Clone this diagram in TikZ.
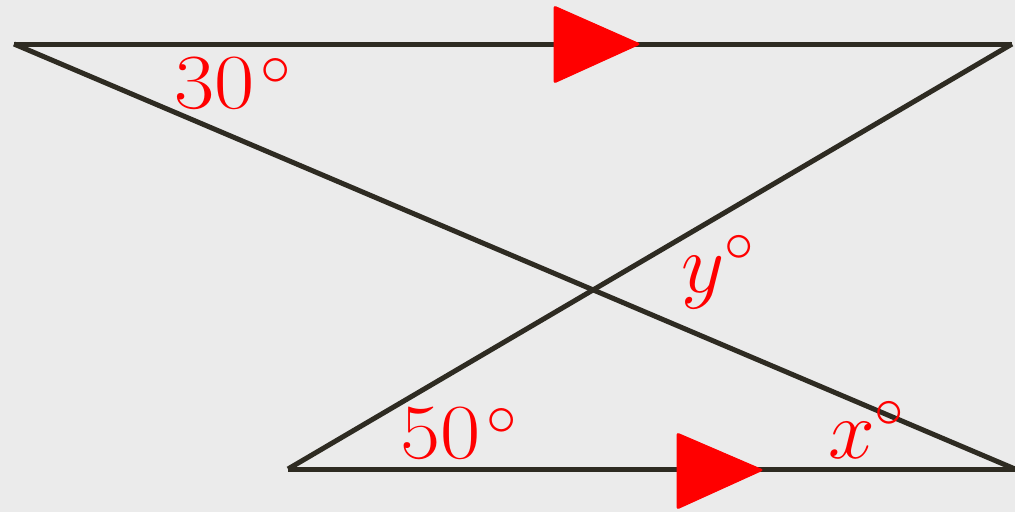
\RequirePackage{fix-cm}
\documentclass[tikz,border=0pt]{standalone}
\newcommand{\degnum}[1]{\scalebox{1.12}[1]{$#1$}\kern6pt\raisebox{23pt}{\scalebox{0.78}{$\circ$}}}
\begin{document}
\begin{tikzpicture}[x=1pt,y=-1pt,
  seg/.style={draw=linecol,line width=5pt},
  marker/.style={fill=red,draw=red,line width=1pt,rounded corners=2pt},
  lab/.style={text=red,inner sep=0pt,anchor=base west,font=\fontsize{78}{84}\selectfont},
  letterlab/.style={lab,font=\fontsize{84}{90}\selectfont}]
\definecolor{linecol}{RGB}{46,43,34}
\definecolor{bgcol}{RGB}{235,235,235}
\useasboundingbox (0,0) rectangle (1015,512);
\fill[bgcol] (0,0) rectangle (1015,512);
\coordinate (A) at (14,44);
\coordinate (B) at (1012,44);
\coordinate (C) at (288,469);
\coordinate (D) at (1015,469);
\draw[seg] (A) -- (B);
\draw[seg] (C) -- (D);
\draw[seg] (A) -- (D);
\draw[seg] (C) -- (B);
\fill[marker] (554,6) -- (640,44) -- (554,83) -- cycle;
\fill[marker] (677,433) -- (763,470) -- (677,509) -- cycle;
\node[lab] (l30) at (174,108) {\degnum{30}};
\node[lab] (l50) at (400,458) {\degnum{50}};
\node[letterlab] (ly) at (681,292) {$y^{\circ}$};
\node[letterlab] (lx) at (828,458) {$x^{\circ}$};
\end{tikzpicture}
\end{document}
